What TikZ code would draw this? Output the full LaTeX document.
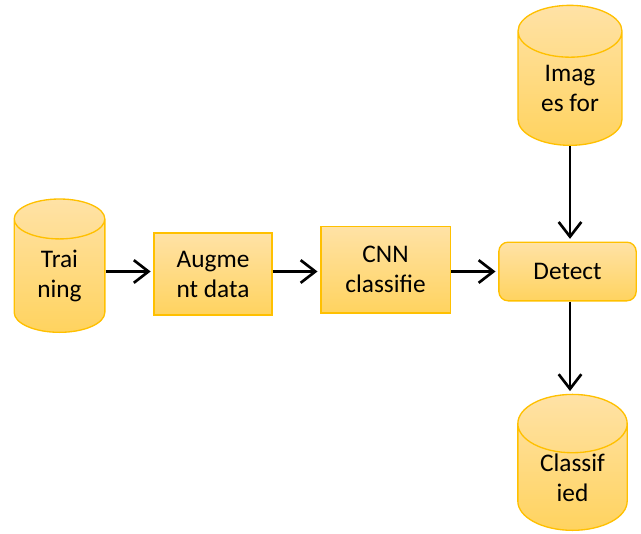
\documentclass[tikz,border=0pt]{standalone}
\usepackage{fontspec}
\setmainfont{Carlito}
\usetikzlibrary{shapes.geometric,arrows.meta}

\definecolor{goldline}{HTML}{FFC000}
\definecolor{goldtop}{HTML}{FFE2A6}
\definecolor{goldbot}{HTML}{FFD35F}

\tikzset{
  store/.style={shape=cylinder,shape border rotate=90,aspect=0.9,inner sep=0pt,
    draw=goldline,line width=1pt,top color=goldtop,bottom color=goldbot,
    align=center,font=\fontsize{19}{22.5}\selectfont,anchor=south},
  stage/.style={rectangle,draw=goldline,line width=1pt,
    top color=goldtop,bottom color=goldbot,
    align=center,font=\fontsize{19}{22.5}\selectfont},
  flow/.style={line width=2pt,-{Straight Barb[length=11pt,width=17pt,line width=2pt]}}
}

\begin{document}
\begin{tikzpicture}[x=0.75pt,y=0.75pt]
    \useasboundingbox (0,0) rectangle (641,533);
    % data stores, placed by their bottom
    \node[store,minimum width=68pt,minimum height=100pt] (train) at (59.5,200) {Trai\\ning};
    \node[store,minimum width=78pt,minimum height=105pt] (imgs) at (570,387) {Imag\\es for};
    \node[store,minimum width=82pt,minimum height=100pt] (clsd) at (572.5,2) {Classif\\ied};
    % processing steps
    \node[stage,minimum width=88.5pt,minimum height=61.5pt] (augm) at (213,259) {Augme\\nt data};
    \node[stage,minimum width=97pt,minimum height=65pt] (cnn) at (385.5,263.5) {CNN\\classifie};
    \node[stage,rounded corners=7pt,minimum width=103pt,minimum height=44pt] (detect) at (567.5,261.5) {Detect};
    % arrows
    \draw[flow,shorten >=2pt] (train.east |- detect) -- (augm.west |- detect);
    \draw[flow,shorten >=2pt] (augm.east |- detect) -- (cnn.west |- detect);
    \draw[flow,shorten >=2pt] (cnn.east |- detect) -- (detect.west);
    \draw[flow,shorten >=2pt] (imgs.south) -- (imgs.south |- detect.north);
    \draw[flow,shorten >=2pt] (imgs.south |- detect.south) -- (imgs.south |- clsd.north);
\end{tikzpicture}
\end{document}
